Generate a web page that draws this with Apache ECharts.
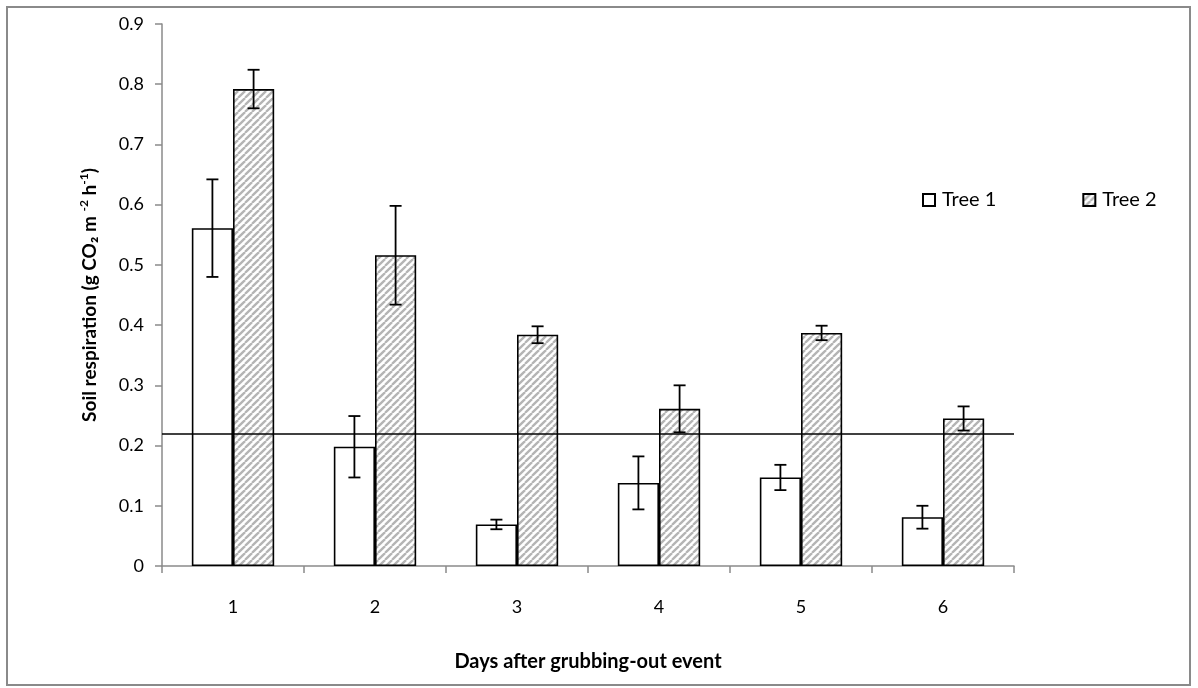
<!DOCTYPE html>
<html>
<head>
<meta charset="utf-8">
<script src="https://cdn.jsdelivr.net/npm/echarts@6/dist/echarts.min.js"></script>
<style>
html,body{margin:0;padding:0;background:#fff;}
#chart{width:1198px;height:688px;}
</style>
</head>
<body>
<div id="chart"></div>
<script>
var categories = ['1', '2', '3', '4', '5', '6'];
var tree1 = [0.561, 0.198, 0.069, 0.138, 0.147, 0.081];
var tree1Err = [0.081, 0.051, 0.008, 0.044, 0.021, 0.019];
var tree2 = [0.792, 0.516, 0.384, 0.261, 0.387, 0.245];
var tree2Err = [0.032, 0.082, 0.014, 0.039, 0.012, 0.020];
var refLine = 0.219;
var yTicks = ['0', '0.1', '0.2', '0.3', '0.4', '0.5', '0.6', '0.7', '0.8', '0.9'];

var BAR_FRAC = 0.29;

function hatch() {
  var s = 7;
  var c = document.createElement('canvas');
  c.width = s; c.height = s;
  var g = c.getContext('2d');
  g.fillStyle = '#ffffff';
  g.fillRect(0, 0, s, s);
  g.strokeStyle = '#b4b4b4';
  g.lineWidth = 2.3;
  for (var k = -1; k <= 1; k++) {
    g.beginPath();
    g.moveTo(k * s, s);
    g.lineTo(k * s + s, 0);
    g.stroke();
  }
  return c;
}
var hatchPattern = { image: hatch(), repeat: 'repeat' };

function errSeries(vals, errs, side) {
  var data = vals.map(function (v, i) { return [i, v - errs[i], v + errs[i]]; });
  return {
    type: 'custom',
    name: 'err' + side,
    z: 5,
    silent: true,
    data: data,
    renderItem: function (params, api) {
      var x = api.value(0);
      var lo = api.coord([x, api.value(1)]);
      var hi = api.coord([x, api.value(2)]);
      var w = api.size([1, 0])[0];
      var cx = lo[0] + side * w * BAR_FRAC / 2;
      var cap = 6;
      var st = { stroke: '#000', lineWidth: 1.8 };
      return {
        type: 'group',
        children: [
          { type: 'line', shape: { x1: cx, y1: lo[1], x2: cx, y2: hi[1] }, style: st },
          { type: 'line', shape: { x1: cx - cap, y1: lo[1], x2: cx + cap, y2: lo[1] }, style: st },
          { type: 'line', shape: { x1: cx - cap, y1: hi[1], x2: cx + cap, y2: hi[1] }, style: st }
        ]
      };
    }
  };
}

var chart = echarts.init(document.getElementById('chart'), null, { renderer: 'canvas' });
var FONT = 'Lato';
chart.setOption({
  animation: false,
  backgroundColor: '#fff',
  textStyle: { fontFamily: FONT },
  graphic: [{
    type: 'rect',
    shape: { x: 7, y: 7, width: 1183, height: 678 },
    style: { fill: 'none', stroke: '#8a8a8a', lineWidth: 2 },
    z: -10
  }],
  grid: { left: 162, right: 184, top: 24, bottom: 122, containLabel: false },
  legend: {
    data: ['Tree 1', 'Tree 2'],
    left: 922, top: 190, padding: 0,
    itemWidth: 12, itemHeight: 12, itemGap: 86,
    icon: 'rect',
    textStyle: { fontFamily: FONT, fontSize: 20, color: '#000', padding: [0, 0, 0, 2] }
  },
  xAxis: {
    type: 'category',
    data: categories,
    name: 'Days after grubbing-out event',
    nameLocation: 'middle',
    nameGap: 86,
    nameTextStyle: { fontFamily: FONT, fontWeight: 'bold', fontSize: 20, color: '#000' },
    axisLine: { lineStyle: { color: '#8a8a8a', width: 1.5 } },
    axisTick: { show: true, length: 7, alignWithLabel: false, lineStyle: { color: '#8a8a8a', width: 1.5 } },
    axisLabel: { fontFamily: FONT, fontSize: 18, color: '#000', margin: 32 },
    splitLine: { show: false }
  },
  yAxis: {
    type: 'value',
    min: 0, max: 0.9, interval: 0.1,
    name: '{a|Soil respiration (g CO₂ m }{s|-2}{a| h}{s|-1}{a|)}',
    nameLocation: 'middle',
    nameGap: 60,
    nameRotate: 90,
    nameTextStyle: {
      fontFamily: FONT, fontWeight: 'bold', fontSize: 19, color: '#000',
      rich: {
        a: { fontFamily: FONT, fontWeight: 'bold', fontSize: 19, color: '#000', lineHeight: 24 },
        s: { fontFamily: FONT, fontWeight: 'bold', fontSize: 12, color: '#000', lineHeight: 12, verticalAlign: 'top' }
      }
    },
    axisLine: { show: true, lineStyle: { color: '#8a8a8a', width: 1.5 } },
    axisTick: { show: true, length: 7, lineStyle: { color: '#8a8a8a', width: 1.5 } },
    axisLabel: {
      fontFamily: FONT, fontSize: 18, color: '#000', margin: 18,
      formatter: function (v) { return yTicks[Math.round(v * 10)]; }
    },
    splitLine: { show: false }
  },
  series: [
    {
      name: 'Tree 1', type: 'bar', data: tree1,
      barWidth: (BAR_FRAC * 100) + '%', barGap: '0%',
      itemStyle: { color: '#ffffff', borderColor: '#000', borderWidth: 1.6 },
      markLine: {
        silent: true, symbol: 'none', animation: false,
        label: { show: false },
        lineStyle: { color: '#000', width: 1.6, type: 'solid' },
        data: [{ yAxis: refLine }]
      }
    },
    {
      name: 'Tree 2', type: 'bar', data: tree2,
      barWidth: (BAR_FRAC * 100) + '%', barGap: '0%',
      itemStyle: { color: hatchPattern, borderColor: '#000', borderWidth: 1.6 }
    },
    errSeries(tree1, tree1Err, -1),
    errSeries(tree2, tree2Err, 1)
  ]
});
</script>
</body>
</html>
